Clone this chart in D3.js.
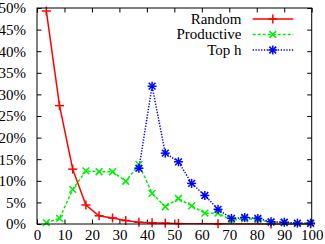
<!DOCTYPE html>
<html><head><meta charset="utf-8">
<script src="https://cdn.jsdelivr.net/npm/d3@7"></script>
<style>body{margin:0;background:#fff}svg{display:block}text{font-family:"Liberation Serif","Times New Roman",serif;font-size:15px;fill:#000}</style>
</head><body>
<script>
const xTicks = [0,10,20,30,40,50,60,70,80,90,100];
const yTicks = [0,5,10,15,20,25,30,35,40,45,50];
const seriesNames = ["Random","Productive","Top h"];
const randomX = [3.4,8.2,13,17.8,22.6,27.5,32.3,37.1,41.9,46.7,51.5,65.9,85.2,99.6];
const randomY = [49.3,27.4,12.7,4.4,1.9,1.4,0.8,0.4,0.3,0.2,0.1,0.05,0.02,0.02];
const productiveX = [3.4,8.2,13,17.8,22.6,27.5,32.3,37.1,41.9,46.7,51.5,56.3,61.1,65.9,70.8,75.6,80.4,85.2,90,94.8,99.6];
const productiveY = [0.3,1.3,8.0,12.3,12.1,12.1,9.9,13.8,7.1,4.0,5.9,4.2,2.5,2.5,0.9,1.2,1.0,0.4,0.3,0.1,0.1];
const tophX = [37.1,41.9,46.7,51.5,56.3,61.1,65.9,70.8,75.6,80.4,85.2,90,94.8,99.6];
const tophY = [12.9,31.9,16.4,14.4,9.4,6.6,3.4,1.3,1.5,1.3,0.5,0.4,0.2,0.2];

const W=325,H=244, L=37, R=311.7, T=8, B=224;
const svg=d3.select("body").append("svg").attr("width",W).attr("height",H);
const x=d3.scaleLinear().domain([0,100]).range([L,R]);
const y=d3.scaleLinear().domain([0,50]).range([B,T]);

// axes
const gx=svg.append("g").attr("transform",`translate(0,${B})`)
  .call(d3.axisBottom(x).tickValues(xTicks).tickSizeInner(-4.5).tickSizeOuter(0).tickPadding(16));
const gxt=svg.append("g").attr("transform",`translate(0,${T})`)
  .call(d3.axisTop(x).tickValues(xTicks).tickSizeInner(-4.5).tickSizeOuter(0).tickFormat(""));
const gy=svg.append("g").attr("transform",`translate(${L},0)`)
  .call(d3.axisLeft(y).tickValues(yTicks).tickSizeInner(-4.5).tickSizeOuter(0).tickPadding(11).tickFormat(d=>d+"%"));
const gyr=svg.append("g").attr("transform",`translate(${R},0)`)
  .call(d3.axisRight(y).tickValues(yTicks).tickSizeInner(-4.5).tickSizeOuter(0).tickFormat(""));
[gx,gxt,gy,gyr].forEach(g=>{g.select(".domain").remove();g.selectAll("text").attr("font-family",null).attr("font-size",null).attr("fill",null);g.selectAll("line").attr("stroke","#000");});
gx.selectAll("text").attr("dy","0");

const line=d3.line().x(d=>x(d[0])).y(d=>y(d[1]));
const mk=(xs,ys)=>xs.map((v,i)=>[v,ys[i]]);
const series=[
 {data:mk(randomX,randomY),color:"#ff0000",dash:null,marker:"plus"},
 {data:mk(productiveX,productiveY),color:"#00ee00",dash:"3,2",marker:"cross"},
 {data:mk(tophX,tophY),color:"#0000ff",dash:"1.3,1.5",marker:"star"}
];
function marker(g,cx,cy,type,color){
  const s=4.5,pts=[];
  if(type!=="cross"){pts.push([cx-s,cy,cx+s,cy],[cx,cy-s,cx,cy+s]);}
  if(type!=="plus"){const t=s*0.75;pts.push([cx-t,cy-t,cx+t,cy+t],[cx-t,cy+t,cx+t,cy-t]);}
  pts.forEach(p=>g.append("line").attr("x1",p[0]).attr("y1",p[1]).attr("x2",p[2]).attr("y2",p[3]).attr("stroke",color).attr("stroke-width",1.5));
}
series.forEach(s=>{
  const g=svg.append("g");
  g.append("path").attr("d",line(s.data)).attr("fill","none").attr("stroke",s.color).attr("stroke-width",1.5).attr("stroke-dasharray",s.dash);
  s.data.forEach(d=>marker(g,x(d[0]),y(d[1]),s.marker,s.color));
});

// frame
svg.append("rect").attr("x",L).attr("y",T).attr("width",R-L).attr("height",B-T).attr("fill","none").attr("stroke","#000").attr("stroke-width",1);

// legend
const leg=svg.append("g");
seriesNames.forEach((n,i)=>{
  const yy=19+i*15.5;
  leg.append("text").attr("x",241.5).attr("y",yy).attr("dy","0.32em").attr("text-anchor","end").text(n);
  const s=series[i];
  leg.append("line").attr("x1",252.7).attr("x2",293.3).attr("y1",yy).attr("y2",yy).attr("stroke",s.color).attr("stroke-width",1.5).attr("stroke-dasharray",s.dash);
  marker(leg,272.8,yy,s.marker,s.color);
});
</script>
</body></html>
